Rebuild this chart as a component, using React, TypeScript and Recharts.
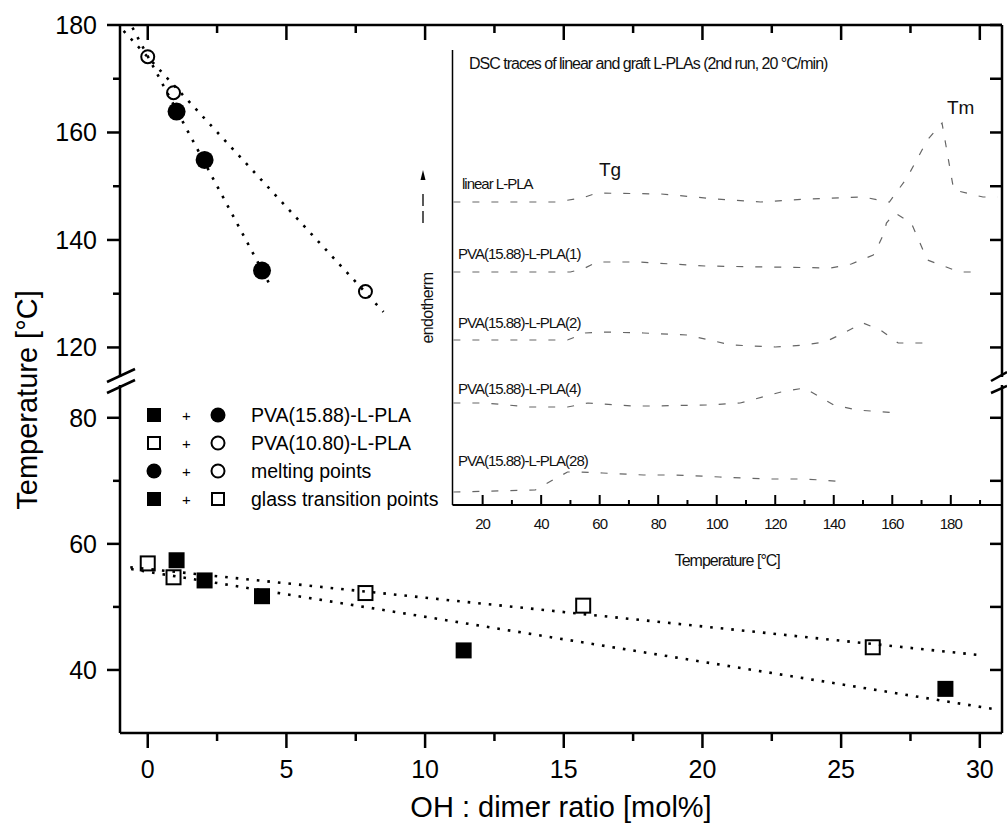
import React from "react";
import { ScatterChart, Scatter, XAxis, YAxis, Legend } from "recharts";

const FONT = "'Liberation Sans', Arial, Helvetica, sans-serif";

// OH : dimer ratio [mol%] of the samples
const ratio1588 = [1.04, 2.05, 4.12, 11.39, 28.76];
const ratio1080 = [0, 0.93, 7.85, 15.7, 26.14];
// melting points [°C] (first three samples of each series)
const tm1588 = [163.9, 154.9, 134.3];
const tm1080 = [174.1, 167.4, 130.4];
// glass transition points [°C]
const tg1588 = [57.4, 54.2, 51.7, 43.1, 37.0];
const tg1080 = [56.9, 54.7, 52.2, 50.2, 43.6];

// dotted guide lines, end points
const tmGuide1588X = [-0.55, 4.41];
const tmGuide1588Y = [179.5, 131.6];
const tmGuide1080X = [-0.87, 8.5];
const tmGuide1080Y = [178.9, 126.6];
const tgGuide1588X = [-0.6, 30.5];
const tgGuide1588Y = [56.0, 33.8];
const tgGuide1080X = [-0.63, 30.13];
const tgGuide1080Y = [56.3, 42.3];

// axis ticks
const xTicks = [0, 2.5, 5, 7.5, 10, 12.5, 15, 17.5, 20, 22.5, 25, 27.5, 30];
const yTicksTop = [120, 130, 140, 150, 160, 170, 180];
const yTicksBottom = [40, 50, 60, 70, 80];
const dscTicks = [20, 30, 40, 50, 60, 70, 80, 90, 100, 110, 120, 130, 140, 150, 160, 170, 180, 190];

// inset: DSC traces (temperature [°C], heat flow in arbitrary offset units)
const dscLinearT = [10, 45, 54, 59, 81, 100, 115, 131, 150, 159, 165, 172, 177, 181, 191, 196];
const dscLinearV = [303, 303, 307, 312, 311, 306, 303, 306, 308, 303, 327, 365, 382, 315, 308, 308];
const dsc1T = [10, 50, 55, 59, 73, 96, 139, 146, 153.5, 155.3, 157.2, 158, 161, 166.5, 172, 183, 190];
const dsc1V = [233, 233, 237, 243, 243, 239, 237, 241, 250, 260, 272, 282, 292, 282, 245, 233, 233];
const dsc2T = [10, 49, 55, 61, 75, 90, 105, 120, 130, 137, 142, 150, 156, 162, 172];
const dsc2V = [165, 165, 172, 173, 172, 170, 160, 158, 160, 163, 170, 182, 175, 162, 162];
const dsc4T = [10, 21, 36, 49, 56, 71, 77, 97, 108, 122, 130, 140, 148, 162];
const dsc4V = [102, 102, 98, 98, 102, 99, 99, 100, 102, 113, 117, 100, 95, 92];
const dsc28T = [10, 38, 44, 46, 49, 53, 61, 75, 86, 101, 117, 129, 136, 144];
const dsc28V = [13, 15, 25, 28, 33, 33, 32, 30, 30, 28, 26, 26, 25, 23];

const traceLabels = [
  { text: "linear L-PLA", x: 462, y: 183 },
  { text: "PVA(15.88)-L-PLA(1)", x: 458, y: 253 },
  { text: "PVA(15.88)-L-PLA(2)", x: 458, y: 322 },
  { text: "PVA(15.88)-L-PLA(4)", x: 458, y: 388 },
  { text: "PVA(15.88)-L-PLA(28)", x: 458, y: 460 },
];

const legendRows = [
  { a: "fsq", b: "fci", label: "PVA(15.88)-L-PLA" },
  { a: "osq", b: "oci", label: "PVA(10.80)-L-PLA" },
  { a: "fci", b: "oci", label: "melting points" },
  { a: "fsq", b: "osq", label: "glass transition points" },
];

const pts = (xs: number[], ys: number[]) => xs.map((x, i) => ({ x, y: ys[i] }));
const dsc = (ts: number[], vs: number[]) => ts.map((t, i) => ({ t, v: vs[i] }));

const TOP_DOMAIN: [number, number] = [114.5, 180];
const BOTTOM_DOMAIN: [number, number] = [30, 85.2];
const X_DOMAIN: [number, number] = [-1, 30.8];
const DSC_DOMAIN: [number, number] = [9.7, 197.5];

const AXIS = { stroke: "#000", strokeWidth: 2.5 };
const dotted = { stroke: "#000", strokeWidth: 2.6, strokeDasharray: "2.6 8" };
const traceLine = { stroke: "#666", strokeWidth: 1.2, strokeDasharray: "7 12" };

const noDot = () => <g />;
const FilledCircle = (p: any) => <circle cx={p.cx} cy={p.cy} r={9} fill="#000" />;
const OpenCircle = (p: any) => (
  <circle cx={p.cx} cy={p.cy} r={6.5} fill="none" stroke="#000" strokeWidth={2} />
);
const FilledSquare = (p: any) => <rect x={p.cx - 8} y={p.cy - 8} width={16} height={16} fill="#000" />;
const OpenSquare = (p: any) => (
  <rect x={p.cx - 7} y={p.cy - 7} width={14} height={14} fill="none" stroke="#000" strokeWidth={2} />
);

// --- tick renderers (tickSize/tickMargin are 0, so x/y sit on the axis line)
const LeftTick = (p: any) => {
  const v = p.payload.value;
  const major = v % 20 === 0;
  return (
    <g>
      <path d={`M${p.x - (major ? 13 : 7)},${p.y}H${p.x}`} stroke="#000" strokeWidth={2.5} fill="none" />
      {major && (
        <text x={p.x - 23} y={p.y} textAnchor="end" dominantBaseline="central" fontSize={25} fontFamily={FONT} fill="#000">
          {v}
        </text>
      )}
    </g>
  );
};
const RightTick = (p: any) => (
  <path d={`M${p.x - 12},${p.y}H${p.x}`} stroke="#000" strokeWidth={2.5} fill="none" />
);
const TopTick = (p: any) => {
  const major = p.payload.value % 5 === 0;
  return <path d={`M${p.x},${p.y}V${p.y + (major ? 15 : 8)}`} stroke="#000" strokeWidth={2.5} fill="none" />;
};
const BottomTick = (p: any) => {
  const v = p.payload.value;
  const major = v % 5 === 0;
  return (
    <g>
      <path d={`M${p.x},${p.y}V${p.y + (major ? 15 : 8)}`} stroke="#000" strokeWidth={2.5} fill="none" />
      {major && (
        <text x={p.x} y={p.y + 36} textAnchor="middle" dominantBaseline="central" fontSize={25} fontFamily={FONT} fill="#000">
          {v}
        </text>
      )}
    </g>
  );
};
const DscTick = (p: any) => {
  const v = p.payload.value;
  const major = v % 20 === 0;
  return (
    <g>
      <path d={`M${p.x},${p.y}V${p.y - (major ? 10 : 5)}`} stroke="#000" strokeWidth={2} fill="none" />
      {major && (
        <text x={p.x} y={p.y + 18} textAnchor="middle" dominantBaseline="central" fontSize={15} letterSpacing={-1} fontFamily={FONT} fill="#111">
          {v}
        </text>
      )}
    </g>
  );
};

const LegendSymbol = ({ kind, x, y }: { kind: string; x: number; y: number }) => {
  if (kind === "fsq") return <rect x={x - 7} y={y - 7} width={14} height={14} fill="#000" />;
  if (kind === "osq") return <rect x={x - 6} y={y - 6} width={12} height={12} fill="none" stroke="#000" strokeWidth={2} />;
  if (kind === "fci") return <circle cx={x} cy={y} r={7.5} fill="#000" />;
  return <circle cx={x} cy={y} r={6.5} fill="none" stroke="#000" strokeWidth={2} />;
};

const renderLegend = () => (
  <svg width={320} height={120}>
    {legendRows.map((r, i) => {
      const y = 15 + i * 28;
      return (
        <g key={r.label}>
          <LegendSymbol kind={r.a} x={14} y={y} />
          <text x={46.5} y={y} textAnchor="middle" dominantBaseline="central" fontSize={15} fontFamily={FONT}>
            +
          </text>
          <LegendSymbol kind={r.b} x={78} y={y} />
          <text x={111} y={y} dominantBaseline="central" fontSize={19.5} fontFamily={FONT} fill="#000">
            {r.label}
          </text>
        </g>
      );
    })}
  </svg>
);

export default function App() {
  return (
    <div style={{ position: "absolute", left: 0, top: 0, width: 1007, height: 824, background: "#fff", fontFamily: FONT }}>
      {/* upper panel: melting points */}
      <div style={{ position: "absolute", left: 0, top: 0 }}>
        <ScatterChart width={1007} height={381} margin={{ top: 20, right: 0, bottom: 4, left: 0 }}>
          <XAxis type="number" dataKey="x" orientation="top" domain={X_DOMAIN} ticks={xTicks} interval={0} height={5}
            tickSize={0} tickMargin={0} tick={TopTick} tickLine={false} axisLine={AXIS} allowDataOverflow />
          <YAxis type="number" dataKey="y" domain={TOP_DOMAIN} ticks={yTicksTop} interval={0}
            width={120} tickSize={0} tickMargin={0} tick={LeftTick} tickLine={false} axisLine={AXIS} allowDataOverflow />
          <YAxis yAxisId="r" orientation="right" type="number" dataKey="y" domain={TOP_DOMAIN} ticks={yTicksTop}
            interval={0} width={5} tickSize={0} tickMargin={0} tick={RightTick} tickLine={false} axisLine={AXIS} allowDataOverflow />
          <Scatter yAxisId="r" data={pts(tmGuide1080X, tmGuide1080Y)} line={dotted} shape={noDot} isAnimationActive={false} />
          <Scatter yAxisId="r" data={pts(tmGuide1588X, tmGuide1588Y)} line={dotted} shape={noDot} isAnimationActive={false} />
          <Scatter data={pts(ratio1080.slice(0, 3), tm1080)} shape={OpenCircle} isAnimationActive={false} />
          <Scatter data={pts(ratio1588.slice(0, 3), tm1588)} shape={FilledCircle} isAnimationActive={false} />
        </ScatterChart>
      </div>

      {/* lower panel: glass transition points */}
      <div style={{ position: "absolute", left: 0, top: 380 }}>
        <ScatterChart width={1007} height={444} margin={{ top: 5, right: 0, bottom: 0, left: 0 }}>
          <XAxis type="number" dataKey="x" domain={X_DOMAIN} ticks={xTicks} interval={0} height={91}
            tickSize={0} tickMargin={0} tick={BottomTick} tickLine={false} axisLine={AXIS} allowDataOverflow
            label={{ value: "OH : dimer ratio [mol%]", position: "insideBottom", offset: 7, fontSize: 29, fill: "#000", fontFamily: FONT }} />
          <YAxis type="number" dataKey="y" domain={BOTTOM_DOMAIN} ticks={yTicksBottom} interval={0}
            width={120} tickSize={0} tickMargin={0} tick={LeftTick} tickLine={false} axisLine={AXIS} allowDataOverflow />
          <YAxis yAxisId="r" orientation="right" type="number" dataKey="y" domain={BOTTOM_DOMAIN} ticks={yTicksBottom}
            interval={0} width={5} tickSize={0} tickMargin={0} tick={RightTick} tickLine={false} axisLine={AXIS} allowDataOverflow />
          <Legend layout="vertical" align="center" verticalAlign="middle" content={renderLegend}
            wrapperStyle={{ left: 140, top: 20, width: 320, height: 120 }} />
          <Scatter yAxisId="r" data={pts(tgGuide1080X, tgGuide1080Y)} line={dotted} shape={noDot} isAnimationActive={false} />
          <Scatter yAxisId="r" data={pts(tgGuide1588X, tgGuide1588Y)} line={dotted} shape={noDot} isAnimationActive={false} />
          <Scatter data={pts(ratio1080, tg1080)} shape={OpenSquare} isAnimationActive={false} />
          <Scatter data={pts(ratio1588, tg1588)} shape={FilledSquare} isAnimationActive={false} />
        </ScatterChart>
      </div>

      {/* inset: DSC traces */}
      <div style={{ position: "absolute", left: 440, top: 40 }}>
        <ScatterChart width={567} height={540} margin={{ top: 10, right: 5, bottom: 0, left: 0 }}>
          <XAxis type="number" dataKey="t" domain={DSC_DOMAIN} ticks={dscTicks} interval={0} height={75}
            tickSize={0} tickMargin={0} tick={DscTick} tickLine={false} axisLine={{ stroke: "#000", strokeWidth: 2 }} allowDataOverflow
            label={{ value: "Temperature [°C]", position: "insideBottom", offset: 14, fontSize: 16, letterSpacing: -1, fill: "#111", fontFamily: FONT }} />
          <YAxis type="number" dataKey="v" domain={[0, 455]} width={12.5} tick={false} tickLine={false}
            axisLine={{ stroke: "#000", strokeWidth: 1.5 }} allowDataOverflow />
          <Scatter data={dsc(dscLinearT, dscLinearV)} line={traceLine} shape={noDot} isAnimationActive={false} />
          <Scatter data={dsc(dsc1T, dsc1V)} line={traceLine} shape={noDot} isAnimationActive={false} />
          <Scatter data={dsc(dsc2T, dsc2V)} line={traceLine} shape={noDot} isAnimationActive={false} />
          <Scatter data={dsc(dsc4T, dsc4V)} line={traceLine} shape={noDot} isAnimationActive={false} />
          <Scatter data={dsc(dsc28T, dsc28V)} line={traceLine} shape={noDot} isAnimationActive={false} />
        </ScatterChart>
      </div>

      {/* axis breaks, axis title and inset annotations */}
      <svg width={1007} height={824} style={{ position: "absolute", left: 0, top: 0, pointerEvents: "none" }} fontFamily={FONT}>
        <g stroke="#000" strokeWidth={2.5}>
          <line x1={107} y1={382} x2={135} y2={369} />
          <line x1={107} y1={393} x2={135} y2={380} />
          <line x1={991} y1={381} x2={1007} y2={372} />
          <line x1={991} y1={393} x2={1007} y2={386} />
        </g>
        <text transform="translate(27,400) rotate(-90)" textAnchor="middle" dominantBaseline="central" fontSize={29} fill="#000">
          Temperature [°C]
        </text>

        <text x={469} y={63} dominantBaseline="central" fontSize={16} letterSpacing={-1} fill="#111">
          DSC traces of linear and graft L-PLAs (2nd run, 20 °C/min)
        </text>
        <text x={599} y={169} dominantBaseline="central" fontSize={19} fill="#111">Tg</text>
        <text x={947} y={107} dominantBaseline="central" fontSize={19} fill="#111">Tm</text>
        {traceLabels.map((l) => (
          <text key={l.text} x={l.x} y={l.y} dominantBaseline="central" fontSize={15} letterSpacing={-1} fill="#111">
            {l.text}
          </text>
        ))}
        <text transform="translate(427,308) rotate(-90)" textAnchor="middle" dominantBaseline="central" fontSize={16} letterSpacing={-0.6} fill="#111">
          endotherm
        </text>
        <line x1={423} y1={223} x2={423} y2={189} stroke="#000" strokeWidth={1.3} strokeDasharray="12 5" />
        <polygon points="420.5,180 425.5,180 423,170" fill="#000" />
      </svg>
    </div>
  );
}
